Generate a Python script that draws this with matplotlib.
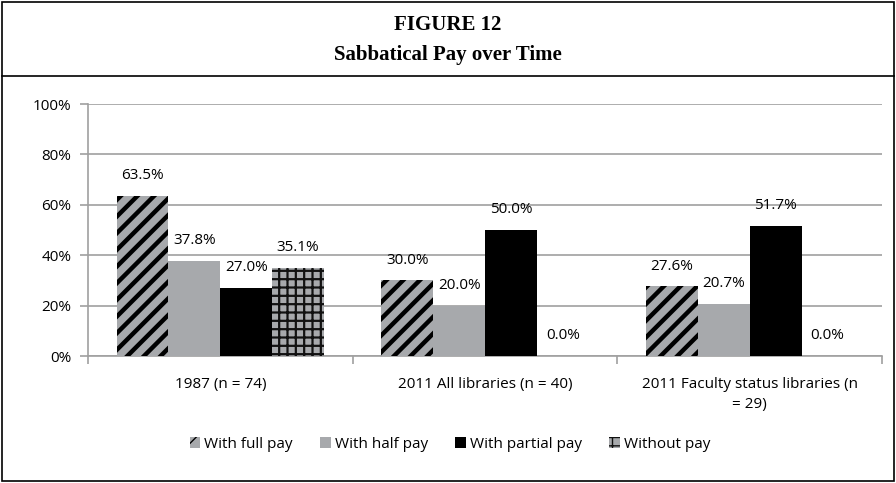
import matplotlib
matplotlib.use("Agg")
import matplotlib.pyplot as plt
import numpy as np
from matplotlib.patches import Rectangle
from matplotlib.lines import Line2D

categories = ["1987 (n = 74)", "2011 All libraries (n = 40)", "2011 Faculty status libraries (n\n= 29)"]
series_names = ["With full pay", "With half pay", "With partial pay", "Without pay"]
full_pay = [63.5, 30.0, 27.6]
half_pay = [37.8, 20.0, 20.7]
partial_pay = [27.0, 50.0, 51.7]
without_pay = [35.1, 0.0, 0.0]
yticks = [0, 20, 40, 60, 80, 100]
title_lines = ["FIGURE 12", "Sabbatical Pay over Time"]

FONT = "Open Sans"
FS = 11
plt.rcParams['font.family'] = [FONT, 'DejaVu Sans']

fig = plt.figure(figsize=(8.96, 4.83), dpi=100)
ax = fig.add_axes([88/896, 1-356/483, (882-88)/896, (356-104)/483])

x = np.arange(len(categories))
w = 0.196
styles = [
    dict(facecolor="#a7a9ac", edgecolor="black", hatch="//", hlw=3.2),
    dict(facecolor="#a7a9ac", edgecolor="#a7a9ac", hatch=None, hlw=1.0),
    dict(facecolor="black", edgecolor="black", hatch=None, hlw=1.0),
    dict(facecolor="#a7a9ac", edgecolor="#111111", hatch="++", hlw=1.6),
]
data = [full_pay, half_pay, partial_pay, without_pay]
handles = []
for i, (vals, st) in enumerate(zip(data, styles)):
    with plt.rc_context({'hatch.linewidth': st['hlw']}):
        bars = ax.bar(x + (i - 1.5) * w, vals, w, facecolor=st['facecolor'],
                      edgecolor=st['edgecolor'], hatch=st['hatch'], linewidth=0, zorder=3)
        handles.append(Rectangle((0, 0), 1, 1, facecolor=st['facecolor'],
                                 edgecolor=st['edgecolor'], hatch=st['hatch'], linewidth=0))
    for b, v in zip(bars, vals):
        ax.annotate(f"{v:.1f}%", (b.get_x() + b.get_width()/2, v), xytext=(0, 14.5),
                    textcoords="offset points", ha="center", va="center", fontsize=FS, zorder=4)

ax.set_xlim(-0.5, 2.5)
ax.set_ylim(0, 100)
ax.set_yticks(yticks)
ax.set_yticklabels([f"{t}%" for t in yticks], fontsize=FS)
ax.yaxis.grid(True, color="#a0a0a0", linewidth=1.2, zorder=0)
ax.set_axisbelow(True)
for s in ["top", "right"]:
    ax.spines[s].set_visible(False)
for s in ["left", "bottom"]:
    ax.spines[s].set_color("#a0a0a0")
    ax.spines[s].set_linewidth(1.2)
ax.tick_params(axis="y", length=6, width=1.2, color="#a0a0a0", pad=6)
ax.set_xticks([-0.5, 0.5, 1.5, 2.5])
ax.set_xticklabels([])
ax.tick_params(axis="x", which="major", length=6, width=1.2, color="#a0a0a0")
ax.set_xticks(x, minor=True)
ax.set_xticklabels(categories, minor=True, fontsize=FS, va="top", linespacing=1.45)
ax.tick_params(axis="x", which="minor", length=0, pad=15)

leg = fig.legend(handles, series_names, loc="center", bbox_to_anchor=(450/896, 1-444/483),
                 ncol=4, frameon=False, fontsize=FS, handlelength=0.7, handleheight=0.7,
                 handletextpad=0.25, columnspacing=1.8)

# frame and title
fig.add_artist(Rectangle((2/896, 2/483), 892/896, 479/483, transform=fig.transFigure,
                         fill=False, edgecolor="black", linewidth=1.2))
fig.add_artist(Line2D([2/896, 894/896], [1-76/483, 1-76/483], transform=fig.transFigure,
                      color="black", linewidth=1.2))
fig.text(0.5, 1-25/483, title_lines[0], ha="center", va="center", fontsize=15,
         fontweight="bold", family="Liberation Serif")
fig.text(0.5, 1-55/483, title_lines[1], ha="center", va="center", fontsize=15,
         fontweight="bold", family="Liberation Serif")

fig.savefig("out.png", dpi=100)
